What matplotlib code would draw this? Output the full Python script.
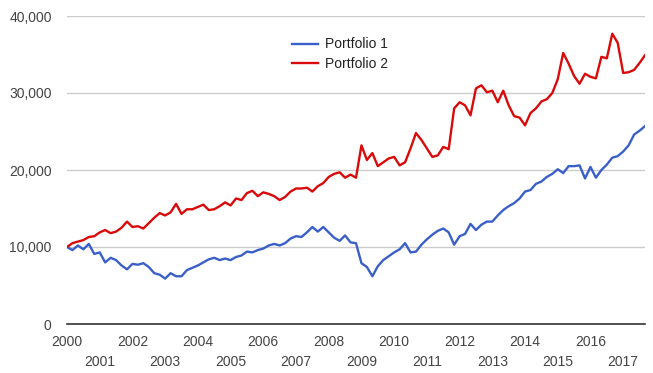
import numpy as np
import matplotlib
matplotlib.use('Agg')
import matplotlib.pyplot as plt
from matplotlib.ticker import FuncFormatter

plt.rcParams['font.family'] = ['Liberation Sans', 'DejaVu Sans']

# Значения, шаг два месяца, начиная с января 2000
portfolio_1 = [
    10000, 9600, 10200, 9700, 10400, 9100,
    9300, 8000, 8600, 8300, 7600, 7100,
    7800, 7700, 7900, 7400, 6600, 6400,
    5900, 6600, 6200, 6200, 7000, 7300,
    7600, 8000, 8400, 8600, 8300, 8500,
    8300, 8700, 8900, 9400, 9300, 9600,
    9800, 10200, 10400, 10200, 10500, 11100,
    11400, 11300, 11900, 12600, 12000, 12600,
    11900, 11200, 10800, 11500, 10600, 10500,
    7900, 7400, 6200, 7500, 8300, 8800,
    9300, 9700, 10500, 9300, 9400, 10300,
    11000, 11600, 12100, 12400, 11900, 10300,
    11400, 11700, 13000, 12200, 12900, 13300,
    13300, 14100, 14800, 15300, 15700, 16300,
    17200, 17400, 18200, 18500, 19100, 19500,
    20100, 19600, 20500, 20500, 20600, 18900,
    20400, 19000, 20000, 20700, 21600, 21800,
    22400, 23200, 24600, 25100, 25700,
]
portfolio_2 = [
    10000, 10500, 10700, 10900, 11300, 11400,
    11900, 12200, 11800, 12000, 12500, 13300,
    12600, 12700, 12400, 13100, 13800, 14400,
    14100, 14500, 15600, 14300, 14900, 14900,
    15200, 15500, 14800, 14900, 15300, 15800,
    15400, 16300, 16100, 17000, 17300, 16600,
    17100, 16900, 16600, 16100, 16500, 17200,
    17600, 17600, 17700, 17200, 17900, 18300,
    19100, 19500, 19700, 19000, 19400, 19000,
    23200, 21300, 22200, 20500, 21000, 21500,
    21700, 20600, 21000, 22800, 24800, 23900,
    22800, 21700, 21900, 23000, 22700, 28000,
    28800, 28400, 27100, 30600, 31000, 30100,
    30300, 28800, 30300, 28400, 27000, 26800,
    25800, 27400, 28000, 28900, 29200, 30000,
    31800, 35200, 33800, 32200, 31200, 32500,
    32100, 31900, 34700, 34500, 37700, 36500,
    32600, 32700, 33000, 33900, 34900,
]
years = list(range(2000, 2018))

t = 2000 + np.arange(len(portfolio_1)) / 6

fig = plt.figure(figsize=(6.53, 3.73), dpi=100)
ax = fig.add_axes([67 / 653, 1 - 324 / 373, 578 / 653, 308 / 373])

ax.plot(t, portfolio_1, color='#3a60c8', lw=1.7, label='Portfolio 1')
ax.plot(t, portfolio_2, color='#d90a0a', lw=1.7, label='Portfolio 2')

ax.set_xlim(2000, t[-1])
ax.set_ylim(0, 40000)
ax.set_yticks([0, 10000, 20000, 30000, 40000])
ax.yaxis.set_major_formatter(FuncFormatter(lambda v, p: f'{int(v):,}'))
ax.grid(axis='y', color='#cccccc', lw=1)
ax.set_axisbelow(True)
for s in ['top', 'right', 'left']:
    ax.spines[s].set_visible(False)
ax.spines['bottom'].set_color('#333333')
ax.spines['bottom'].set_linewidth(1.2)

# подписи лет в два ряда
even = [y for y in years if y % 2 == 0]
odd = [y for y in years if y % 2 == 1]
ax.set_xticks(even)
ax.set_xticklabels([str(y) for y in even])
ax.set_xticks(odd, minor=True)
ax.set_xticklabels([str(y) for y in odd], minor=True)
ax.tick_params(axis='x', which='major', length=0, pad=8, labelsize=10, labelcolor='#444444')
ax.tick_params(axis='x', which='minor', length=0, pad=22, labelsize=10, labelcolor='#444444')
ax.tick_params(axis='y', length=0, pad=11, labelsize=10, labelcolor='#444444')

ax.legend(loc='upper left', bbox_to_anchor=(279 / 653, 1 - 25 / 373),
          bbox_transform=fig.transFigure, frameon=False, fontsize=10,
          handlelength=1.9, handletextpad=0.5, labelspacing=0.4,
          labelcolor='#222222')

fig.savefig('out.png', dpi=100)
